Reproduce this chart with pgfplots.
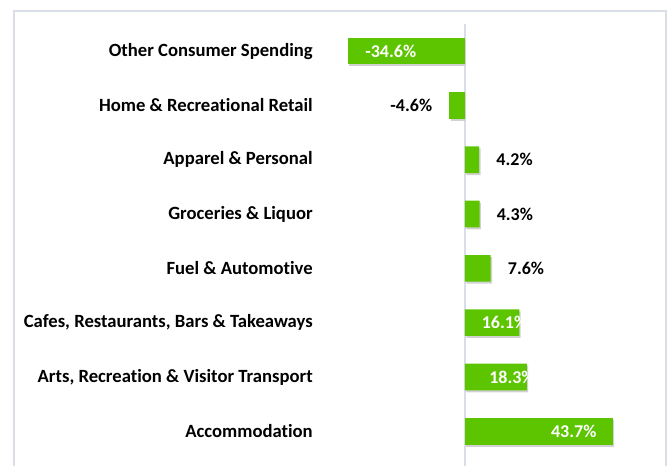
\documentclass[border=0pt]{standalone}
\usepackage{fontspec}
\setmainfont{Carlito}[Ligatures=NoCommon]
\usepackage{pgfplots}
\pgfplotsset{compat=1.18}
\definecolor{bargreen}{RGB}{92,197,0}
\definecolor{framegray}{RGB}{217,222,230}

\begin{document}
\begin{tikzpicture}
\useasboundingbox (0,0) rectangle (502.5pt,-349.5pt);
% outer chart frame (bottom edge is cut off in the reference)
\draw[framegray,line width=1pt] (10.5pt,-360pt) -- (10.5pt,-8.25pt) -- (499.5pt,-8.25pt) -- (499.5pt,-360pt);
\begin{axis}[
    at={(247.35pt,-18pt)},anchor=north west,
    scale only axis,width=248.4pt,height=325.8pt,
    xbar,bar width=20pt,bar shift=0pt,
    xmin=-40,xmax=58,ymin=-0.5,ymax=7.5,
    y dir=reverse,
    hide x axis,
    y axis line style={draw=none},
    ytick={0,...,7},
    yticklabels={Other Consumer Spending,Home \& Recreational Retail,Apparel \& Personal,Groceries \& Liquor,Fuel \& Automotive,{Cafes, Restaurants, Bars \& Takeaways},{Arts, Recreation \& Visitor Transport},Accommodation},
    ytick style={draw=none},
    yticklabel style={font=\bfseries\fontsize{14}{16}\selectfont,xshift=-5pt},
    clip=false,
    point meta=explicit symbolic,
    nodes near coords,
    every node near coord/.append style={font=\bfseries\fontsize{13.5}{15}\selectfont,inner sep=0pt},
    every axis plot/.append style={fill=bargreen,draw=none,
        preaction={fill=black!18,transform canvas={xshift=1pt,yshift=-1.5pt}}},
]
\draw[framegray,line width=1pt] (axis cs:0,-0.5) -- (axis cs:0,8.2);
% bar inside, label from left end
\addplot[nodes near coords style={white,anchor=west,xshift=12.75pt}]
    coordinates {(-34.6,0) [-34.6\%]};
% bars with outside labels, negative
\addplot[nodes near coords style={black,anchor=east,xshift=-12.75pt}]
    coordinates {(-4.6,1) [-4.6\%]};
% bars with outside labels, positive
\addplot[nodes near coords style={black,anchor=west,xshift=12.75pt}]
    coordinates {(4.2,2) [4.2\%] (4.3,3) [4.3\%] (7.6,4) [7.6\%]};
% short bars, white label running past the end
\addplot[nodes near coords style={white,anchor=east,xshift=6pt}]
    coordinates {(16.1,5) [16.1\%] (18.3,6) [18.3\%]};
% long bar, label inside end
\addplot[nodes near coords style={white,anchor=east,xshift=-12pt}]
    coordinates {(43.7,7) [43.7\%]};
\end{axis}
\end{tikzpicture}
\end{document}
